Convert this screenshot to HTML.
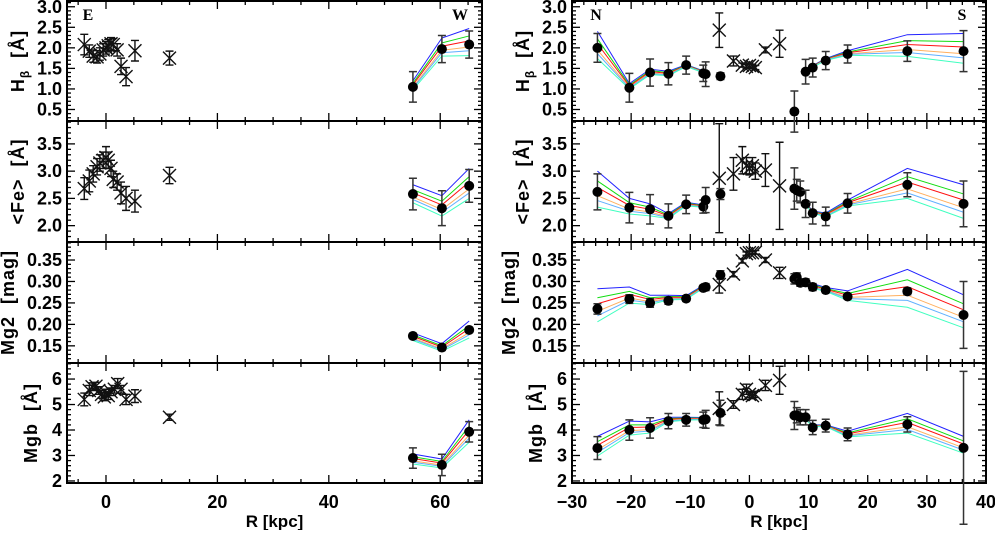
<!DOCTYPE html>
<html><head><meta charset="utf-8"><style>
html,body{margin:0;padding:0;background:#fff}
svg text{font-family:"Liberation Sans",sans-serif;font-weight:bold;fill:#000}
</style></head><body>
<svg id="chart" width="995" height="530" viewBox="0 0 995 530" xmlns="http://www.w3.org/2000/svg"></svg>
<script>
// ---------- data ----------
const panelIndices = ["Hbeta","Fe","Mg2","Mgb"];
const rCircX = [-25.7,-20.3,-16.8,-13.7,-10.7,-7.8,-7.4,-4.9,7.6,8.0,8.6,9.5,10.7,12.9,16.6,26.7,36.2];
const rCircHb = [2.0,1.03,1.4,1.37,1.58,1.38,1.36,1.31,0.45,null,null,1.42,1.52,1.69,1.85,1.92,1.92];
const rCircHbErr = [0.35,0.35,0.33,0.27,0.22,0.2,0.3,0.08,0.5,0,0,0.3,0.23,0.22,0.22,0.25,0.5];
const rCircFe = [2.62,2.33,2.3,2.18,2.39,2.35,2.47,2.58,2.68,2.65,2.62,2.4,2.23,2.17,2.41,2.75,2.4];
const rCircFeErr = [0.33,0.28,0.27,0.22,0.17,0.12,0.23,0.1,0.38,0.2,0.2,0.25,0.2,0.17,0.18,0.22,0.42];
const rCircMg2 = [0.236,0.259,0.25,0.255,0.26,0.285,0.287,0.315,0.306,0.31,0.297,0.298,0.287,0.28,0.265,0.277,0.222];
const rCircMg2Err = [0.012,0.01,0.01,0.008,0.006,0.006,0.008,0.01,0.012,0.01,0.008,0.008,0.008,0.006,0.006,0.008,0.078];
const rCircMgb = [3.29,4.0,4.08,4.35,4.4,4.4,4.42,4.67,4.57,4.58,4.5,4.5,4.1,4.17,3.83,4.22,3.3];
const rCircMgbErr = [0.45,0.4,0.4,0.3,0.25,0.3,0.35,0.5,0.55,0.3,0.3,0.3,0.28,0.25,0.25,0.3,3.0];
const rCrossX = [-5.1,-2.7,-1.2,-0.5,0,0.5,1.0,2.7,5.1];
const rCrossHb = [2.43,1.68,1.58,1.55,1.57,1.55,1.52,1.95,2.1];
const rCrossHbErr = [0.42,0.12,0.05,0.05,0.05,0.05,0.05,0.07,0.33];
const rCrossFe = [2.87,2.95,3.2,3.1,3.05,3.1,3.0,3.02,2.73];
const rCrossFeErr = [1.0,0.3,0.25,0.15,0.12,0.15,0.15,0.3,0.8];
const rCrossMg2 = [0.293,0.317,0.348,0.365,0.367,0.367,0.368,0.35,0.32];
const rCrossMg2Err = [0.02,0.006,0.005,0.004,0.004,0.004,0.004,0.006,0.013];
const rCrossMgb = [4.85,5.0,5.4,5.6,5.4,5.35,5.4,5.75,5.95];
const rCrossMgbErr = [0.65,0.15,0.2,0.2,0.12,0.12,0.12,0.2,0.55];
const rModLX = [-25.7,-20.3,-16.8,-13.7,-10.7,-7.8,-7.4];
const rModRX = [9.5,10.7,12.9,16.6,26.7,36.2];
const rModLHb = [2.1,1.07,1.42,1.38,1.57,1.42,1.4];
const rModLHbS = [0.3,0.06,0.06,0.05,0.02,0.02,0.02];
const rModRHb = [1.45,1.55,1.72,1.88,2.08,2.02];
const rModRHbS = [0.02,0.02,0.02,0.05,0.24,0.33];
const rModLFe = [2.7,2.37,2.3,2.18,2.4,2.36,2.36];
const rModLFeS = [0.3,0.13,0.1,0.04,0.03,0.02,0.02];
const rModRFe = [2.4,2.25,2.2,2.42,2.8,2.47];
const rModRFeS = [0.02,0.02,0.03,0.05,0.25,0.28];
const rModLMg2 = [0.248,0.27,0.258,0.263,0.263,0.288,0.29];
const rModLMg2S = [0.035,0.017,0.01,0.005,0.004,0.003,0.003];
const rModRMg2 = [0.298,0.29,0.282,0.268,0.288,0.234];
const rModRMg2S = [0.004,0.005,0.004,0.01,0.04,0.035];
const rModLMgb = [3.4,4.1,4.12,4.42,4.45,4.45,4.45];
const rModLMgbS = [0.35,0.25,0.2,0.08,0.05,0.04,0.04];
const rModRMgb = [4.45,4.17,4.17,3.85,4.3,3.45];
const rModRMgbS = [0.03,0.03,0.03,0.1,0.35,0.3];
const lCircX = [55.1,60.3,65.2];
const lCircHb = [1.05,1.97,2.08], lCircHbErr = [0.37,0.33,0.33];
const lCircFe = [2.58,2.32,2.73], lCircFeErr = [0.29,0.32,0.3];
const lCircMg2 = [0.173,0.146,0.187], lCircMg2Err = [0.006,0.006,0.006];
const lCircMgb = [2.9,2.63,3.93], lCircMgbErr = [0.4,0.42,0.4];
const lModHb = [1.1,2.04,2.17], lModHbS = [0.1,0.2,0.3];
const lModFe = [2.6,2.38,2.8], lModFeS = [0.15,0.17,0.25];
const lModMg2 = [0.172,0.147,0.19], lModMg2S = [0.008,0.008,0.018];
const lModMgb = [2.88,2.7,4.0], lModMgbS = [0.18,0.16,0.4];
const lCrossX = [-3.9,-3.0,-2.3,-1.6,-1.1,-0.5,0,0.4,0.9,1.3,2.0,2.7,3.6,5.2,11.4];
const lCrossHb = [2.08,1.92,1.8,1.78,1.85,1.95,2.0,2.05,2.1,2.08,1.95,1.55,1.3,1.93,1.75];
const lCrossHbErr = [0.25,0.15,0.15,0.15,0.15,0.15,0.15,0.15,0.15,0.15,0.15,0.2,0.22,0.25,0.17];
const lCrossFe = [2.68,2.82,2.95,3.08,3.15,3.2,3.25,3.2,3.05,2.85,2.8,2.6,2.5,2.45,2.92];
const lCrossFeErr = [0.2,0.2,0.15,0.15,0.15,0.15,0.2,0.15,0.15,0.15,0.15,0.2,0.22,0.2,0.15];
const lCrossMgb = [5.2,5.55,5.7,5.72,5.55,5.4,5.3,5.45,5.35,5.5,5.6,5.82,5.6,5.2,5.33];
const lCrossMgbErr = [0.25,0.2,0.15,0.15,0.15,0.15,0.15,0.15,0.15,0.15,0.15,0.2,0.15,0.2,0.25];
const lCrossMgbX = [-3.9,-3.0,-2.5,-1.8,-1.3,-0.8,-0.3,0,0.4,0.9,1.5,2.1,2.7,3.6,5.2];
const lCrossMgbX2 = 11.4, lCrossMgb2 = 4.5, lCrossMgbErr2 = 0.12;
const modelColors = ["#2222ff","#11dd11","#ff1111","#ffb060","#60b0ff","#40ffc0"];
const modelFrac = [1,0.4,0,-0.5,-0.8,-1.2];
const rowNames = ["hbeta","fe","mg2","mgb"];
const yLabels = ["H","<Fe>  [Å]","Mg2  [mag]","Mgb  [Å]"];
const yRanges = [[0.22,3.14],[1.7,3.92],[0.11,0.392],[1.92,6.63]];
const yMajor = [[0.5,1.0,1.5,2.0,2.5,3.0],[2.0,2.5,3.0,3.5],[0.15,0.2,0.25,0.3,0.35],[2,3,4,5,6]];
const yMajorLbl = [["0.5","1.0","1.5","2.0","2.5","3.0"],["2.0","2.5","3.0","3.5"],["0.15","0.20","0.25","0.30","0.35"],["2","3","4","5","6"]];
const yMinorStep = [0.1,0.1,0.01,0.2];
const lXTicks = [0,20,40,60], rXTicks = [-30,-20,-10,0,10,20,30,40];

// ---------- drawing ----------
const svg = document.getElementById('chart');
const NS = 'http://www.w3.org/2000/svg';
function mk(tag, attrs, parent){const e=document.createElementNS(NS,tag);for(const k in attrs)e.setAttribute(k,attrs[k]);(parent||svg).appendChild(e);return e;}
const rowTop=[1,121,242,363], rowBot=[121,242,363,483];
const L={x0:67,x1:482,d0:-7,d1:67.5}, R={x0:572,x1:986,d0:-30,d1:40};
function sx(p,v){return p.x0+(v-p.d0)/(p.d1-p.d0)*(p.x1-p.x0);}
function sy(r,v){const [a,b]=yRanges[r];return rowBot[r]-(v-a)/(b-a)*(rowBot[r]-rowTop[r]);}

function drawFrame(p,side){
  for(let r=0;r<4;r++){
    const g=mk('g',{});
    
    
    mk('rect',{x:p.x0,y:rowTop[r],width:p.x1-p.x0,height:rowBot[r]-rowTop[r],fill:'none',stroke:'#000','stroke-width':2},g);
    const [a,b]=yRanges[r];
    const st=yMinorStep[r];
    for(let v=Math.ceil(a/st)*st;v<=b;v+=st){
      const y=sy(r,v);
      const maj=yMajor[r].some(m=>Math.abs(m-v)<st/4);
      const len=maj?8:4;
      mk('line',{x1:p.x0,x2:p.x0+len,y1:y,y2:y,stroke:'#000','stroke-width':1.3},g);
      mk('line',{x1:p.x1,x2:p.x1-len,y1:y,y2:y,stroke:'#000','stroke-width':1.3},g);
    }
    yMajor[r].forEach((v,i)=>{
      const t=mk('text',{x:p.x0-5,y:sy(r,v)+6,'text-anchor':'end','font-size':18},g);
      t.textContent=yMajorLbl[r][i];
    });
    const xt = side==='left'?lXTicks:rXTicks, mstep=side==='left'?5:2;
    for(let v=Math.ceil(p.d0/mstep)*mstep;v<=p.d1;v+=mstep){
      const x=sx(p,v); const maj=xt.includes(v); const len=maj?8:4;
      mk('line',{x1:x,x2:x,y1:rowBot[r],y2:rowBot[r]-len,stroke:'#000','stroke-width':1.3},g);
      mk('line',{x1:x,x2:x,y1:rowTop[r],y2:rowTop[r]+len,stroke:'#000','stroke-width':1.3},g);
    }
    const lx = side==='left'? [24,24,14,37][r] : [529,529,515,542][r];
    const cy=(rowTop[r]+rowBot[r])/2;
    const yl=mk('text',{x:lx,y:cy,'text-anchor':'middle','font-size':18,'letter-spacing':1,'xml:space':'preserve',style:'white-space:pre',transform:`rotate(-90 ${lx} ${cy})`},g);
    
    
    if(r===0){yl.innerHTML='H<tspan font-size="12" dy="5">β</tspan><tspan dy="-5">  [Å]</tspan>';}
    else yl.textContent=yLabels[r];
  }
  const xt = side==='left'?lXTicks:rXTicks;
  xt.forEach(v=>{const t=mk('text',{x:sx(p,v),y:508,'text-anchor':'middle','font-size':18});t.textContent=(v<0?'−':'')+Math.abs(v);
    });
  const xl=mk('text',{x:(p.x0+p.x1)/2,y:527,'text-anchor':'middle','font-size':17,'font-weight':'normal'});
  xl.textContent='R [kpc]';
  
  
}

function models(p,r,xs,mid,spr,name){
  modelColors.forEach((c,k)=>{
    const pts=xs.map((x,i)=>sx(p,x)+','+sy(r,mid[i]+spr[i]*modelFrac[k])).join(' ');
    const pl=mk('polyline',{points:pts,fill:'none',stroke:c,'stroke-width':1});
    
    
  });
}
function circles(p,r,xs,ys,es,name){
  xs.forEach((x,i)=>{
    if(ys[i]==null)return;
    const X=sx(p,x),Y=sy(r,ys[i]);
    if(es[i]>0){
      const y1=sy(r,ys[i]+es[i]),y2=sy(r,ys[i]-es[i]);
      mk('path',{d:`M${X},${y1}V${y2}M${X-4},${y1}H${X+4}M${X-4},${y2}H${X+4}`,stroke:'#333','stroke-width':1.5,fill:'none'});
    }
    const c=mk('circle',{cx:X,cy:Y,r:5,fill:'#000'});
    
    
  });
}
function crosses(p,r,xs,ys,es,name){
  xs.forEach((x,i)=>{
    const X=sx(p,x),Y=sy(r,ys[i]);
    const y1=sy(r,ys[i]+es[i]),y2=sy(r,ys[i]-es[i]);
    const s=6.5;
    const pa=mk('path',{d:`M${X},${y1}V${y2}M${X-4},${y1}H${X+4}M${X-4},${y2}H${X+4}M${X-s},${Y-s}L${X+s},${Y+s}M${X-s},${Y+s}L${X+s},${Y-s}`,stroke:'#111','stroke-width':1.4,fill:'none'});
    
    
  });
}
drawFrame(L,'left'); drawFrame(R,'right');
models(L,0,lCircX,lModHb,lModHbS,'left-hbeta'); circles(L,0,lCircX,lCircHb,lCircHbErr,'left-hbeta'); crosses(L,0,lCrossX,lCrossHb,lCrossHbErr,'left-hbeta');
models(L,1,lCircX,lModFe,lModFeS,'left-fe'); circles(L,1,lCircX,lCircFe,lCircFeErr,'left-fe'); crosses(L,1,lCrossX,lCrossFe,lCrossFeErr,'left-fe');
models(L,2,lCircX,lModMg2,lModMg2S,'left-mg2'); circles(L,2,lCircX,lCircMg2,lCircMg2Err,'left-mg2');
models(L,3,lCircX,lModMgb,lModMgbS,'left-mgb'); circles(L,3,lCircX,lCircMgb,lCircMgbErr,'left-mgb');
crosses(L,3,lCrossMgbX,lCrossMgb,lCrossMgbErr,'left-mgb'); crosses(L,3,[lCrossMgbX2],[lCrossMgb2],[lCrossMgbErr2],'left-mgb');
const rMods=[[rModLHb,rModLHbS,rModRHb,rModRHbS],[rModLFe,rModLFeS,rModRFe,rModRFeS],[rModLMg2,rModLMg2S,rModRMg2,rModRMg2S],[rModLMgb,rModLMgbS,rModRMgb,rModRMgbS]];
const rCirc=[[rCircHb,rCircHbErr],[rCircFe,rCircFeErr],[rCircMg2,rCircMg2Err],[rCircMgb,rCircMgbErr]];
const rCross=[[rCrossHb,rCrossHbErr],[rCrossFe,rCrossFeErr],[rCrossMg2,rCrossMg2Err],[rCrossMgb,rCrossMgbErr]];
for(let r=0;r<4;r++){
  const n='right-'+rowNames[r];
  models(R,r,rModLX,rMods[r][0],rMods[r][1],n+'-north');
  models(R,r,rModRX,rMods[r][2],rMods[r][3],n+'-south');
  crosses(R,r,rCrossX,rCross[r][0],rCross[r][1],n);
  circles(R,r,rCircX,rCirc[r][0],rCirc[r][1],n);
}
[['E',88,'label-east'],['W',460,'label-west'],['N',596,'label-north'],['S',962,'label-south']].forEach(a=>{
  const t=mk('text',{x:a[1],y:20,'text-anchor':'middle','font-size':16,style:'font-family:"Liberation Serif",serif'});
  t.textContent=a[0];
  
  
});
</script>
</body></html>
